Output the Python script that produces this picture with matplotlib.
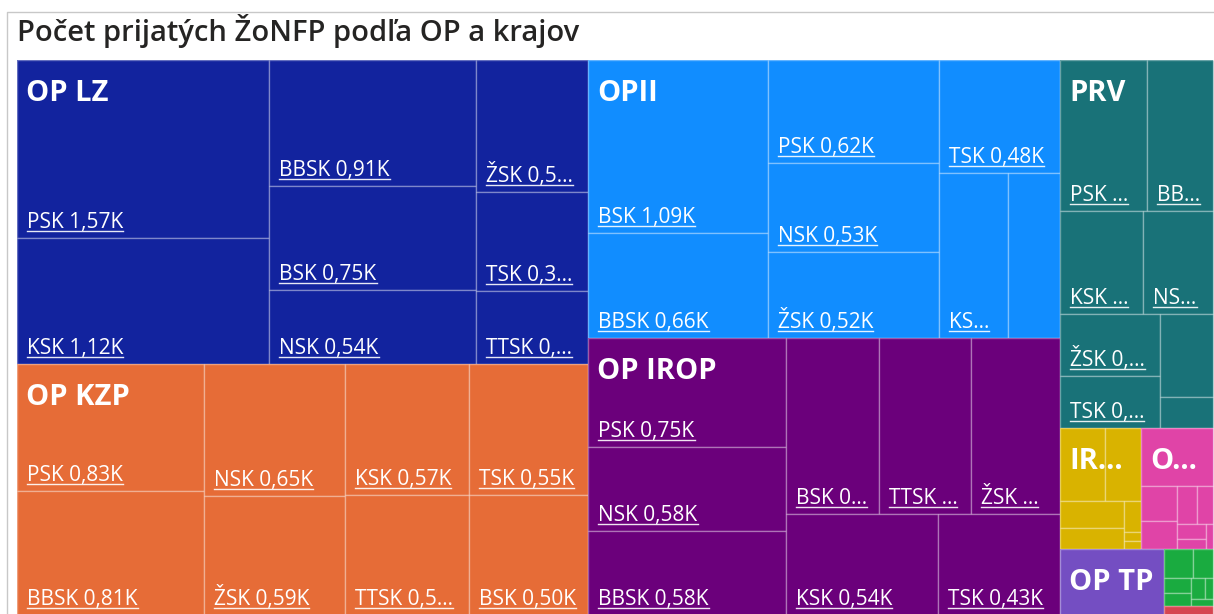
import math
import matplotlib
matplotlib.use("Agg")
import matplotlib.pyplot as plt
from matplotlib.patches import Rectangle

plt.rcParams["font.family"] = ["Open Sans", "DejaVu Sans"]

# top level: operacne programy (sorted by count, as in the report)
programs = ["OP LZ", "OP KZP", "OPII", "OP IROP", "PRV",
            "IROP REACT-EU", "OP EVS", "OP TP", "OP RH", "INTERREG"]
program_colors = ["#12239E", "#E66C37", "#118DFF", "#6B007B", "#197278",
                  "#D9B300", "#E044A7", "#744EC2", "#1AAB40", "#D64550"]

# second level: kraje and number of received ZoNFP
kraje_lz = ["PSK", "KSK", "BBSK", "BSK", "NSK", "ŽSK", "TSK", "TTSK"]
pocet_lz = [1570, 1120, 910, 750, 540, 520, 390, 290]
kraje_kzp = ["PSK", "BBSK", "NSK", "ŽSK", "KSK", "TSK", "TTSK", "BSK"]
pocet_kzp = [830, 810, 650, 590, 570, 550, 520, 500]
kraje_opii = ["BSK", "BBSK", "PSK", "NSK", "ŽSK", "TSK", "KSK", "TTSK"]
pocet_opii = [1090, 660, 620, 530, 520, 480, 400, 300]
kraje_irop = ["PSK", "NSK", "BBSK", "BSK", "TTSK", "ŽSK", "KSK", "TSK"]
pocet_irop = [750, 584, 578, 570, 565, 550, 540, 430]
kraje_prv = ["PSK", "BBSK", "KSK", "NSK", "ŽSK", "TSK", "BSK", "TTSK"]
pocet_prv = [460, 350, 300, 250, 220, 180, 155, 56]
kraje_react = ["BSK", "PSK", "KSK", "BBSK", "NSK", "ŽSK", "TSK"]
pocet_react = [116, 92, 60, 48, 19, 5, 5]
kraje_evs = ["BSK", "PSK", "KSK", "NSK", "BBSK", "ŽSK", "TSK", "TTSK"]
pocet_evs = [146, 44, 35, 27, 22, 15, 10, 6]
kraje_tp = ["BSK"]
pocet_tp = [240]
kraje_rh = ["NSK", "TTSK", "BBSK", "PSK", "ŽSK", "KSK", "TSK"]
pocet_rh = [30, 20, 15, 12, 10, 6, 5]
kraje_interreg = ["BSK"]
pocet_interreg = [16]

title = "Počet prijatých ŽoNFP podľa OP a krajov"

children = [
    (kraje_lz, pocet_lz), (kraje_kzp, pocet_kzp), (kraje_opii, pocet_opii),
    (kraje_irop, pocet_irop), (kraje_prv, pocet_prv), (kraje_react, pocet_react),
    (kraje_evs, pocet_evs), (kraje_tp, pocet_tp), (kraje_rh, pocet_rh),
    (kraje_interreg, pocet_interreg),
]

PHI = (1 + math.sqrt(5)) / 2


def squarify(values, x0, y0, x1, y1):
    # same idea as d3.treemapSquarify (golden ratio)
    rects = [None] * len(values)
    total = float(sum(values))
    n = len(values)
    i0 = 0
    while i0 < n:
        dx, dy = x1 - x0, y1 - y0
        s = values[i0]
        vmin = vmax = s
        alpha = max(dy / dx, dx / dy) / (total * PHI)
        beta = s * s * alpha
        best = max(vmax / beta, beta / vmin)
        i1 = i0 + 1
        while i1 < n:
            v = values[i1]
            s2 = s + v
            lo, hi = min(vmin, v), max(vmax, v)
            beta = s2 * s2 * alpha
            r = max(hi / beta, beta / lo)
            if r > best:
                break
            s, vmin, vmax, best = s2, lo, hi, r
            i1 += 1
        if dx < dy:
            h = dy * s / total if i1 < n else dy
            xx = x0
            for i in range(i0, i1):
                w = dx * values[i] / s
                rects[i] = (xx, y0, xx + w, y0 + h)
                xx += w
            y0 += h
        else:
            w = dx * s / total if i1 < n else dx
            yy = y0
            for i in range(i0, i1):
                h = dy * values[i] / s
                rects[i] = (x0, yy, x0 + w, yy + h)
                yy += h
            x0 += w
        total -= s
        i0 = i1
    return rects


W, H = 1214, 614
fig = plt.figure(figsize=(W / 100, H / 100), dpi=100)
ax = fig.add_axes([0, 0, 1, 1])
ax.set_xlim(0, W)
ax.set_ylim(H, 0)
ax.axis("off")
renderer = fig.canvas.get_renderer()

# visual border + title
ax.plot([7, 7, W], [H, 12, 12], color="#c8c8c8", lw=1)
ax.text(17, 41, title, fontsize=21, fontweight="semibold", color="#252423", va="baseline")


def text_width(t):
    return t.get_window_extent(renderer=renderer).width


def fitted_text(x, y, s, avail, min_chars, **kw):
    t = ax.text(x, y, s, **kw)
    if text_width(t) <= avail:
        return t
    for k in range(len(s) - 1, min_chars - 1, -1):
        t.set_text(s[:k] + "...")
        if text_width(t) <= avail:
            return t
    t.remove()
    return None


def fmt(v):
    return ("%.2f" % (v / 1000)).replace(".", ",") + "K"


totals = [sum(c[1]) for c in children]
top_rects = squarify(totals, 17, 60, 1213, 615)

for (kraje, pocty), color, name, (px0, py0, px1, py1) in zip(children, program_colors, programs, top_rects):
    ax.add_patch(Rectangle((px0, py0), px1 - px0, py1 - py0, facecolor=color, edgecolor="none"))
    leaf_rects = squarify(pocty, px0, py0, px1, py1)
    for (x0, y0, x1, y1) in leaf_rects:
        ax.add_patch(Rectangle((x0, y0), x1 - x0, y1 - y0, facecolor=color,
                               edgecolor=(1, 1, 1, 0.35), lw=1))

    # program label at top-left
    pt = fitted_text(px0 + 9, py0 + 41, name, px1 - px0 - 16, 1, fontsize=21,
                     fontweight="bold", color="white", va="baseline")
    pbox = None
    if pt is not None:
        pbox = (px0 + 9, py0 + 19, px0 + 9 + text_width(pt), py0 + 46)

    # kraj labels at bottom-left, underlined
    for kraj, v, (x0, y0, x1, y1) in zip(kraje, pocty, leaf_rects):
        if x1 - x0 < 40 or y1 - y0 < 30:
            continue
        bx, by = x0 + 10, y1 - 10
        t = fitted_text(bx, by, kraj + " " + fmt(v), x1 - x0 - 20, 2, fontsize=15,
                        color="white", va="baseline")
        if t is None:
            continue
        tw = text_width(t)
        if pbox is not None and bx < pbox[2] and bx + tw > pbox[0] and by - 16 < pbox[3] and by + 4 > pbox[1]:
            t.remove()
            continue
        ax.plot([bx, bx + tw], [by + 3, by + 3], color="white", lw=1, alpha=0.9)

fig.savefig("out.png", dpi=100)
